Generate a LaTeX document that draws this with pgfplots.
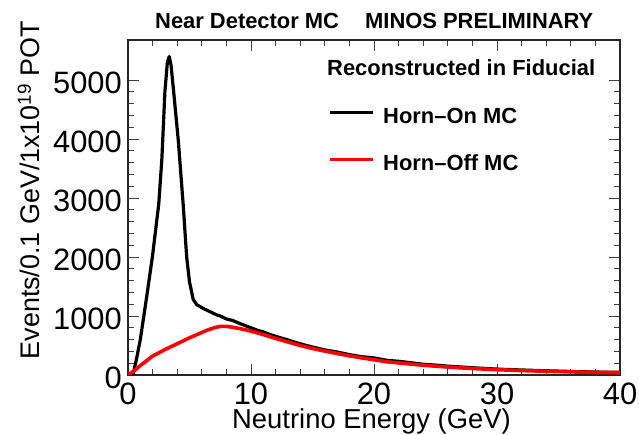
\documentclass[border=0pt]{standalone}
\usepackage{pgfplots}
\pgfplotsset{compat=1.18}
\usepackage{fontspec}
\setmainfont{Liberation Sans}
\begin{document}
\begin{tikzpicture}[x=1bp,y=1bp]
\begin{axis}[
  at={(0,0)}, anchor=south west,
  width=492bp, height=335bp, scale only axis,
  xmin=0, xmax=40, ymin=0, ymax=5680,
  xtick={0,10,20,30,40}, ytick={0,1000,2000,3000,4000,5000},
  minor x tick num=4, minor y tick num=4,
  major tick length=11bp, minor tick length=6bp,
  tick align=inside,
  axis line style={line width=1.2bp, black!85},
  every tick/.style={black!75, line width=1bp},
  scaled y ticks=false,
  /pgf/number format/assume math mode=true,
  /pgf/number format/1000 sep={},
  tick label style={font=\fontsize{31}{34}\selectfont, inner sep=0pt},
  yticklabel style={anchor=east, xshift=-6bp, yshift=-3bp},
  xticklabel style={anchor=north, yshift=-8bp},
  xlabel={Neutrino Energy (GeV)},
  xlabel style={font=\fontsize{27.5}{30}\selectfont, anchor=base, at={(axis description cs:0.495,0)}, yshift=-54bp, inner sep=0pt},
  ylabel={Events/0.1 GeV/1x10\textsuperscript{19} POT},
  ylabel style={font=\fontsize{27}{30}\selectfont, anchor=base, at={(axis description cs:-0.179,0.552)}, inner sep=0pt},
]
\addplot[black, line width=3.2bp, line join=round] coordinates {
(0,0) (0.4,0) (0.7,280) (1.0,600) (1.5,1300) (2.0,2030) (2.5,2900) (2.75,3650)
(3.0,4800) (3.2,5300) (3.35,5400) (3.5,5250) (3.7,4830) (4.1,3950) (4.5,2850)
(4.77,2000) (5.0,1580) (5.3,1280) (5.6,1190) (5.85,1160) (6.2,1120) (6.5,1090)
(6.9,1050) (7.2,1020) (7.5,1000) (8.0,950) (8.5,925) (9.0,880) (9.5,840) (10.0,800)
(10.5,760) (11,730) (11.5,690) (12,655) (12.5,625) (13,595) (13.5,560) (14,530)
(14.5,500) (15,475) (16,425) (17,390) (18,345) (19,310) (20,290) (20.5,270)
(21,250) (22,232) (23,208) (24,182) (25,168) (26,150) (27,137) (28,123)
(29,112) (30,100) (31,92) (32,85) (33,78) (34,72) (35,66) (36,60) (37,55)
(38,50) (39,47) (40,45)
};
\addplot[red, line width=3.6bp, line join=round] coordinates {
(0,0) (0.5,70) (1,160) (2,320) (3,430) (4,530) (5,630) (6,720) (6.5,765)
(7,800) (7.5,825) (8,825) (8.5,810) (9,790) (9.5,768) (10,745)
(10.5,715) (11,685) (12,620) (13,560) (14,500) (15,450) (16,405) (17,365)
(18,325) (19,290) (20,258) (21,225) (22,205) (23,185) (24,165) (25,150)
(26,135) (27,122) (28,110) (29,100) (30,90) (32,75) (34,63) (36,53) (38,45)
(40,38)
};
\end{axis}
\begin{scope}[every node/.style={font=\fontsize{22}{26}\selectfont\bfseries, inner sep=0pt, anchor=base west}]
\node at (27,346) {Near Detector MC};
\node at (237,346) {MINOS PRELIMINARY};
\node at (199,299) {Reconstructed in Fiducial};
\node at (255,251) {Horn\textendash On MC};
\node at (255,204) {Horn\textendash Off MC};
\end{scope}
\draw[black, line width=3bp] (202,262) -- (245,262);
\draw[red, line width=3bp] (202,215) -- (245,215);
\pgfresetboundingbox
\path[use as bounding box] (-128,-60) rectangle (511,375);
\end{tikzpicture}
\end{document}
